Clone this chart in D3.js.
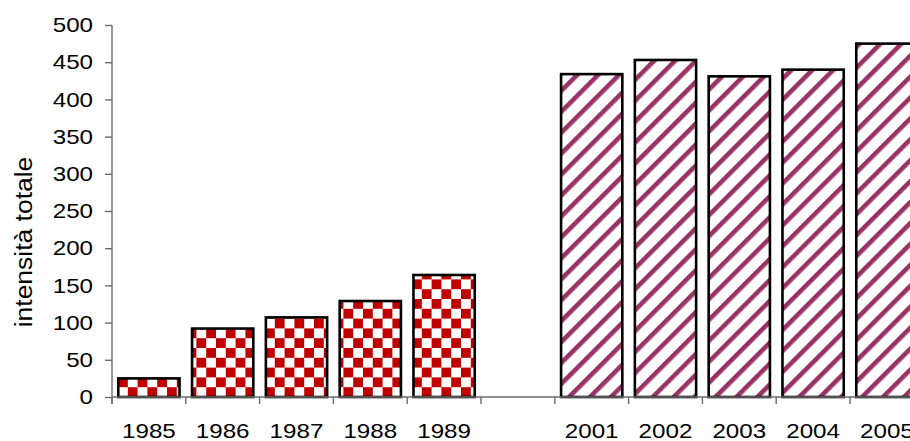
<!DOCTYPE html>
<html>
<head>
<meta charset="utf-8">
<script src="https://cdn.jsdelivr.net/npm/d3@7"></script>
<style>
  html, body { margin: 0; padding: 0; background: #fff; }
  svg { display: block; font-family: "Liberation Sans", Arial, sans-serif; }
</style>
</head>
<body>
<svg id="chart" width="910" height="441"></svg>
<script>
// Yearly totals: two survey periods separated by an empty slot
const categories = ["1985", "1986", "1987", "1988", "1989", "", "2001", "2002", "2003", "2004", "2005"];
const values     = [25, 92, 107, 129, 164, null, 434, 453, 431, 440, 475];
const period     = ["early", "early", "early", "early", "early", null, "late", "late", "late", "late", "late"];
const yTicks     = [0, 50, 100, 150, 200, 250, 300, 350, 400, 450, 500];
const yLabel     = "intensità totale";

const svg = d3.select("#chart");
const plotLeft = 112, plotTop = 25, plotBottom = 397;
const step = 73.8;
const widen = 1.15; // text is set slightly wide

const x = d3.scaleBand()
  .domain(categories.map((c, i) => i))
  .range([plotLeft, plotLeft + step * categories.length])
  .padding(0);

const y = d3.scaleLinear().domain([0, 500]).range([plotBottom, plotTop]);

// Fill patterns
const defs = svg.append("defs");

const checker = defs.append("pattern")
  .attr("id", "checker")
  .attr("patternUnits", "userSpaceOnUse")
  .attr("width", 19.6).attr("height", 19.6)
  .attr("x", 0.4).attr("y", 5);
checker.append("rect").attr("width", 19.6).attr("height", 19.6).attr("fill", "#ffffff");
checker.append("rect").attr("x", 0).attr("y", 0).attr("width", 9.8).attr("height", 9.8).attr("fill", "#c00000");
checker.append("rect").attr("x", 9.8).attr("y", 9.8).attr("width", 9.8).attr("height", 9.8).attr("fill", "#c00000");

const stripes = defs.append("pattern")
  .attr("id", "stripes")
  .attr("patternUnits", "userSpaceOnUse")
  .attr("width", 14.8).attr("height", 14.8)
  .attr("patternTransform", "rotate(45)");
stripes.append("rect").attr("width", 14.8).attr("height", 14.8).attr("fill", "#ffffff");
stripes.append("rect").attr("x", 0).attr("y", 0).attr("width", 4.6).attr("height", 14.8).attr("fill", "#993366");

const fillFor = p => p === "early" ? "url(#checker)" : "url(#stripes)";

// Bars
const barW = x.bandwidth() * 0.83;
svg.append("g")
  .selectAll("rect")
  .data(values.map((v, i) => ({ v, i, p: period[i] })).filter(d => d.v !== null))
  .join("rect")
  .attr("x", d => x(d.i) + (x.bandwidth() - barW) / 2)
  .attr("y", d => y(d.v))
  .attr("width", barW)
  .attr("height", d => y(0) - y(d.v))
  .attr("fill", d => fillFor(d.p))
  .attr("stroke", "#000")
  .attr("stroke-width", 2.6);

// Y axis
const yAxis = d3.axisLeft(y).tickValues(yTicks).tickSize(7).tickPadding(12);
const gy = svg.append("g").attr("transform", `translate(${plotLeft},0)`).call(yAxis);
gy.select(".domain").attr("stroke", "#6b6b6b").attr("stroke-width", 1.4).attr("d", `M0,${plotTop}V${plotBottom + 7}`);
gy.selectAll(".tick line").attr("stroke", "#6b6b6b").attr("stroke-width", 1.4);
gy.selectAll(".tick text").attr("font-size", 21).attr("fill", "#000")
  .attr("font-family", "'Liberation Sans', Arial, sans-serif");

// X axis: ticks sit on the band boundaries, labels in the band centres
const gx = svg.append("g").attr("transform", `translate(0,${plotBottom})`);
gx.append("line")
  .attr("x1", plotLeft).attr("x2", 910)
  .attr("stroke", "#6b6b6b").attr("stroke-width", 1.4);
gx.selectAll("line.tick")
  .data(categories.map((c, i) => i))
  .join("line")
  .attr("class", "tick")
  .attr("x1", i => x(i)).attr("x2", i => x(i))
  .attr("y1", 0).attr("y2", 7)
  .attr("stroke", "#6b6b6b").attr("stroke-width", 1.4);
gx.selectAll("text")
  .data(categories.map((c, i) => ({ c, i })))
  .join("text")
  .attr("x", d => x(d.i) + x.bandwidth() / 2)
  .attr("y", 41.3)
  .attr("text-anchor", "middle")
  .attr("font-size", 21)
  .attr("fill", "#000")
  .text(d => d.c);

// Y axis title
svg.append("text")
  .attr("transform", "translate(32,242) rotate(-90)")
  .attr("text-anchor", "middle")
  .attr("font-size", 23)
  .attr("fill", "#000")
  .text(yLabel);

// Stretch every label slightly along its run
svg.selectAll("text").each(function () {
  const len = this.getComputedTextLength();
  if (len > 0) {
    d3.select(this)
      .attr("textLength", len * widen)
      .attr("lengthAdjust", "spacingAndGlyphs");
  }
});
</script>
</body>
</html>
